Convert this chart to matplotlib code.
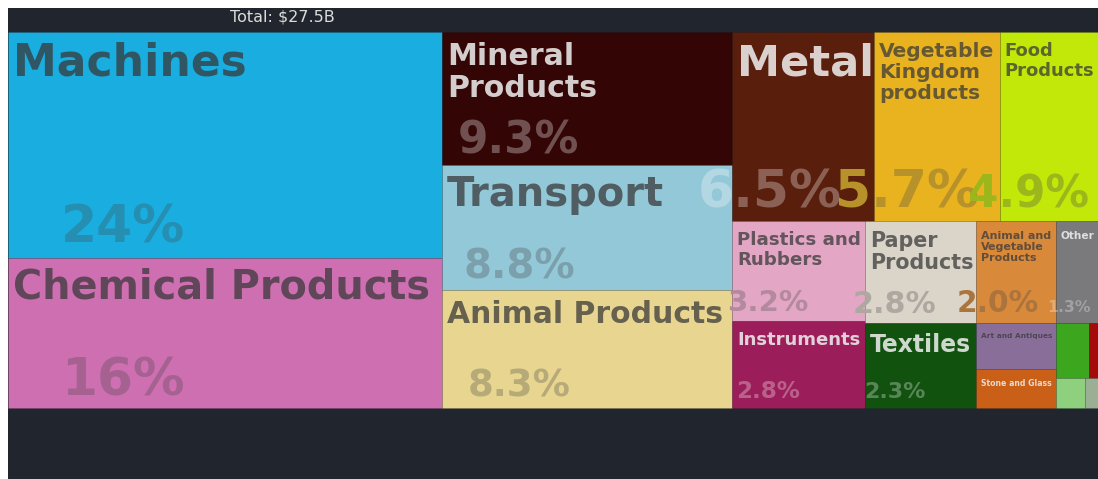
import matplotlib
matplotlib.use("Agg")
import matplotlib.pyplot as plt
from matplotlib.colors import to_rgb
from matplotlib.font_manager import FontProperties
from matplotlib.patches import Rectangle
from matplotlib.textpath import TextPath

# Export value by product section, in millions of USD
sections = [
    "Machines", "Chemical Products", "Mineral Products", "Transport",
    "Animal Products", "Metal", "Vegetable Kingdom products", "Food Products",
    "Plastics and Rubbers", "Instruments", "Paper Products", "Textiles",
    "Animal and Vegetable Products", "Other", "Art and Antiques",
    "Stone and Glass", "Wood Products", "Weapons", "Footwear and Headwear",
    "Animal Hides",
]
export_musd = [6518, 4340, 2566, 2420, 2285, 1779, 1579, 1350, 886, 765,
               759, 627, 539, 349, 242, 209, 121, 66, 58, 44]

# how each name is broken over lines inside its tile
display_names = {
    "Mineral Products": "Mineral\nProducts",
    "Vegetable Kingdom products": "Vegetable\nKingdom\nproducts",
    "Food Products": "Food\nProducts",
    "Plastics and Rubbers": "Plastics and\nRubbers",
    "Paper Products": "Paper\nProducts",
    "Animal and Vegetable Products": "Animal and\nVegetable\nProducts",
}

colors = {
    "Machines": "#19ADE0", "Chemical Products": "#CE6FB2",
    "Mineral Products": "#330505", "Transport": "#93C8D8",
    "Animal Products": "#E8D590", "Metal": "#5A1E0C",
    "Vegetable Kingdom products": "#E9B31F", "Food Products": "#C2E80A",
    "Plastics and Rubbers": "#E3A6C5", "Instruments": "#9B1E5A",
    "Paper Products": "#DAD4C9", "Textiles": "#12520F",
    "Animal and Vegetable Products": "#D8893A", "Other": "#7A7A7C",
    "Art and Antiques": "#8A6E9A", "Stone and Glass": "#CA6018",
    "Wood Products": "#3BA61E", "Weapons": "#A50A0A",
    "Footwear and Headwear": "#8ED07E", "Animal Hides": "#9AAF94",
}
light_text = {"Mineral Products", "Metal", "Instruments", "Textiles",
              "Other", "Stone and Glass"}

PHI = (1 + 5 ** 0.5) / 2
BOLD = FontProperties(family="DejaVu Sans", weight="bold")


def squarify(values, x0, y0, x1, y1, ratio=PHI):
    """Squarified treemap (same row logic as d3.treemapSquarify)."""
    rects = [None] * len(values)
    total = float(sum(values))
    n = len(values)
    i0 = i1 = 0
    while i0 < n:
        dx, dy = x1 - x0, y1 - y0
        s = values[i1]
        i1 += 1
        vmin = vmax = s
        alpha = max(dy / dx, dx / dy) / (total * ratio)
        beta = s * s * alpha
        best = max(vmax / beta, beta / vmin)
        while i1 < n:
            v = values[i1]
            s += v
            vmin, vmax = min(vmin, v), max(vmax, v)
            beta = s * s * alpha
            r = max(vmax / beta, beta / vmin)
            if r > best:
                s -= v
                break
            best = r
            i1 += 1
        if dx < dy:
            ny = y0 + dy * s / total
            cx = x0
            for k in range(i0, i1):
                w = dx * values[k] / s
                rects[k] = (cx, y0, cx + w, ny)
                cx += w
            y0 = ny
        else:
            nx = x0 + dx * s / total
            cy = y0
            for k in range(i0, i1):
                h = dy * values[k] / s
                rects[k] = (x0, cy, nx, cy + h)
                cy += h
            x0 = nx
        total -= s
        i0 = i1
    return rects


def mix(c, other, t):
    a, b = to_rgb(c), to_rgb(other)
    return tuple(a[i] * (1 - t) + b[i] * t for i in range(3))


def text_em(s):
    return TextPath((0, 0), s, size=1, prop=BOLD).get_extents().width


W_PX, H_PX, DPI = 1098, 479, 100
PT = 72 / DPI

fig = plt.figure(figsize=(W_PX / DPI, H_PX / DPI), dpi=DPI, facecolor="white")
ax = fig.add_axes([8 / W_PX, 0, 1 - 8 / W_PX, 1 - 8 / H_PX])
ax.set_xlim(8, W_PX)
ax.set_ylim(H_PX, 8)
ax.axis("off")
ax.add_patch(Rectangle((8, 8), W_PX, H_PX, color="#21262E", zorder=0))

# treemap area (runs a little past the right edge of the figure)
X0, Y0, X1, Y1 = 8, 32, 1107, 408
total = sum(export_musd)
rects = squarify(export_musd, X0, Y0, X1, Y1)

ax.text(X0 + (X1 - X0) / 4, 16.5, f"Total: ${total / 1000:.1f}B",
        ha="center", va="center", fontsize=11.5, color="#DCDCDC")

for name, (x0, y0, x1, y1) in zip(sections, rects):
    ax.add_patch(Rectangle((x0, y0), x1 - x0, y1 - y0, facecolor=colors[name],
                           edgecolor=(0, 0, 0, 0.08), linewidth=0.6, zorder=1))

for name, value, (x0, y0, x1, y1) in zip(sections, export_musd, rects):
    w, h = x1 - x0, y1 - y0
    if w < 40 or h < 35:
        continue
    tile = colors[name]
    if name in light_text:
        name_col = mix(tile, "#F0F0F0", 0.85)
        pct_col = (1, 1, 1, 0.3)
    else:
        name_col = mix(tile, "#383838", 0.74)
        pct_col = mix(tile, "#444444", 0.3)

    # section name, sized to fit the visible width of the tile
    label = display_names.get(name, name)
    lines = label.split("\n")
    widest = max(text_em(ln) for ln in lines)
    vis_w = min(x1, W_PX) - x0
    em = min(44, 0.97 * (vis_w - 8) / widest, 0.32 * h / len(lines) ** 0.5)
    ax.text(x0 + 5, y0 + 10, label, ha="left", va="top", fontsize=em * PT,
            fontproperties=BOLD, color=name_col, linespacing=1.12, zorder=3,
            clip_on=True)

    # share of total, large and faint near the bottom of the tile
    if h >= 60:
        share = 100 * value / total
        pct = f"{share:.0f}%" if share >= 10 else f"{share:.1f}%"
        em = min(52, 0.45 * h - 16, 0.5 * w - 10)
        ax.text(x0 + 0.265 * w, y1 - 7 - 0.035 * h, pct, ha="center",
                va="baseline", fontsize=em * PT, fontproperties=BOLD,
                color=pct_col, zorder=2, clip_on=True)

fig.savefig("out.png", dpi=DPI, facecolor="white")
